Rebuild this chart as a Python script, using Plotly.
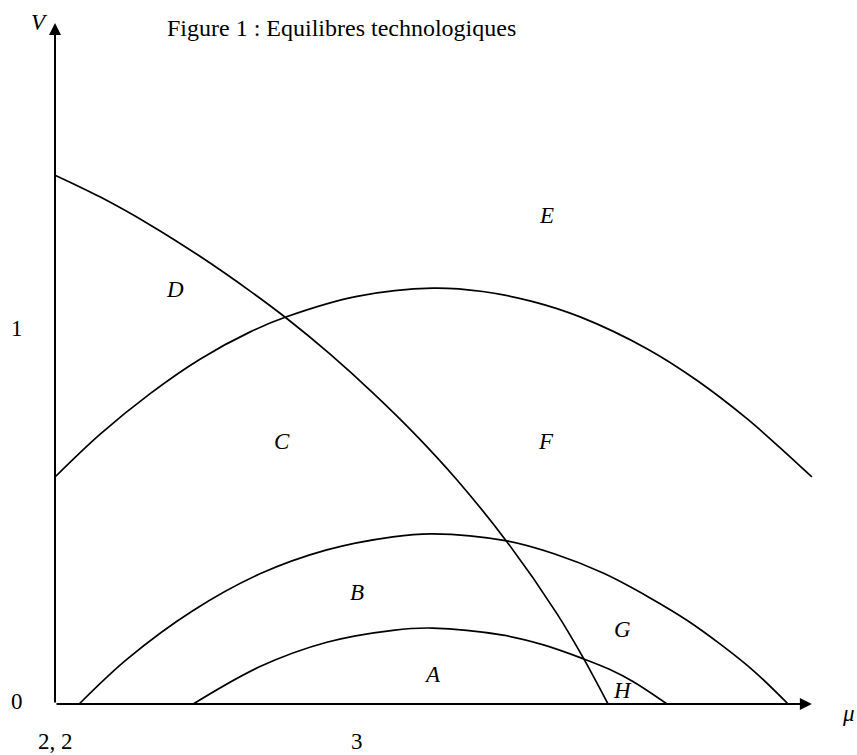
import plotly.graph_objects as go

# Decreasing curve
mu_dec = [2.2, 2.319, 2.452, 2.584, 2.717, 2.815, 2.928, 3.042, 3.154, 3.265, 3.397, 3.530, 3.599, 3.665]
v_dec = [1.414, 1.356, 1.281, 1.197, 1.104, 1.030, 0.936, 0.832, 0.721, 0.599, 0.434, 0.241, 0.124, 0.0]

# Upper parabola
mu_up = [2.2, 2.319, 2.452, 2.584, 2.717, 2.815, 3.0, 3.2, 3.333, 3.466, 3.591, 3.768, 3.901, 4.033, 4.121, 4.205]
v_up = [0.607, 0.721, 0.830, 0.922, 0.995, 1.036, 1.090, 1.112, 1.103, 1.076, 1.035, 0.950, 0.865, 0.763, 0.685, 0.607]

# Middle parabola
mu_mid = [2.264, 2.391, 2.566, 2.743, 2.920, 3.095, 3.2, 3.397, 3.524, 3.652, 3.774, 3.874, 3.965, 4.049, 4.142]
v_mid = [0.0, 0.120, 0.250, 0.348, 0.412, 0.447, 0.455, 0.436, 0.401, 0.350, 0.285, 0.224, 0.158, 0.090, 0.0]

# Lower parabola
mu_low = [2.566, 2.743, 2.920, 3.095, 3.2, 3.387, 3.494, 3.599, 3.670, 3.731, 3.821]
v_low = [0.0, 0.100, 0.165, 0.197, 0.203, 0.184, 0.158, 0.121, 0.092, 0.060, 0.0]

# Region labels
region_names = ["A", "B", "C", "D", "E", "F", "G", "H"]
region_mu = [3.201, 3.0, 2.801, 2.518, 3.501, 3.501, 3.702, 3.702]
region_v = [0.080, 0.299, 0.703, 1.107, 1.307, 0.703, 0.198, 0.037]

# Axis tick labels
x_tick_vals = [2.2, 3.0]
x_tick_text = ["2, 2", "3"]
y_tick_vals = [0, 1]
y_tick_text = ["0", "1"]

x_origin, y_origin = 2.2, 0.0
x_end, y_end = 4.205, 1.821

title_text = "Figure 1 : Equilibres technologiques"

SERIF = "Liberation Serif, DejaVu Serif, serif"

fig = go.Figure()
for xs, ys in [(mu_dec, v_dec), (mu_up, v_up), (mu_mid, v_mid), (mu_low, v_low)]:
    fig.add_trace(go.Scatter(x=xs, y=ys, mode="lines",
                             line=dict(color="black", width=1.7, shape="spline", smoothing=1.0),
                             hoverinfo="skip", showlegend=False))

annotations = []
for n, x, y in zip(region_names, region_mu, region_v):
    annotations.append(dict(x=x, y=y, xref="x", yref="y", text=f"<i>{n}</i>",
                            showarrow=False, font=dict(family=SERIF, size=23, color="black")))

# axes arrows
annotations.append(dict(x=x_end, y=y_origin, ax=x_origin, ay=y_origin,
                        xref="x", yref="y", axref="x", ayref="y", text="",
                        showarrow=True, arrowhead=2, arrowsize=1.2, arrowwidth=2, arrowcolor="black"))
annotations.append(dict(x=x_origin, y=y_end, ax=x_origin, ay=y_origin,
                        xref="x", yref="y", axref="x", ayref="y", text="",
                        showarrow=True, arrowhead=2, arrowsize=1.2, arrowwidth=2, arrowcolor="black"))

# tick labels
for v, t in zip(x_tick_vals, x_tick_text):
    annotations.append(dict(x=v, y=y_origin, xref="x", yref="y", text=t, showarrow=False,
                            yshift=-38, font=dict(family=SERIF, size=23, color="black")))
for v, t in zip(y_tick_vals, y_tick_text):
    annotations.append(dict(x=x_origin, y=v, xref="x", yref="y", text=t, showarrow=False,
                            xshift=-38, yshift=2, font=dict(family=SERIF, size=23, color="black")))

# axis titles
annotations.append(dict(x=x_end, y=y_origin, xref="x", yref="y", text="<i>μ</i>", showarrow=False,
                        xshift=37, yshift=-10, font=dict(family=SERIF, size=23, color="black")))
annotations.append(dict(x=x_origin, y=y_end, xref="x", yref="y", text="<i>V</i>", showarrow=False,
                        xshift=-16, yshift=0, font=dict(family=SERIF, size=23, color="black")))

# title
annotations.append(dict(x=3.0, y=y_end, xref="x", yref="y", text=title_text, showarrow=False,
                        xshift=-16, yshift=-5, font=dict(family=SERIF, size=24, color="black")))

fig.update_layout(
    width=857, height=755,
    margin=dict(l=0, r=0, t=0, b=0),
    paper_bgcolor="white", plot_bgcolor="white",
    xaxis=dict(range=[2.0543, 4.3245], visible=False, fixedrange=True),
    yaxis=dict(range=[-0.1364, 1.8824], visible=False, fixedrange=True),
    annotations=annotations,
    showlegend=False,
)
fig.write_html("out.html", config={"displayModeBar": False},
               post_script="document.body.style.margin='0';document.body.style.overflow='hidden';")
